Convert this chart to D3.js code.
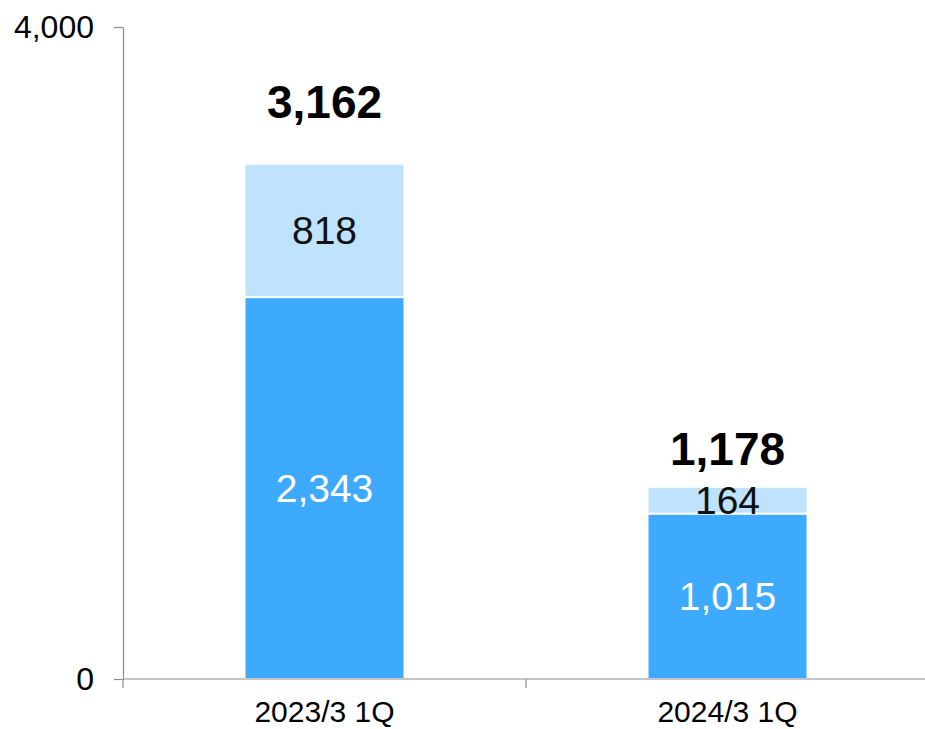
<!DOCTYPE html>
<html>
<head>
<meta charset="utf-8">
<script src="https://cdn.jsdelivr.net/npm/d3@7/dist/d3.min.js"></script>
<style>
  html, body { margin: 0; padding: 0; background: #fff; }
  svg { display: block; font-family: Arial, "Liberation Sans", sans-serif; }
</style>
</head>
<body>
<svg id="chart" width="925" height="729"></svg>
<script>
// chart data
const categories = ["2023/3 1Q", "2024/3 1Q"];
const baseValues = [2343, 1015];
const extraValues = [818, 164];
const totals = [3162, 1178];
const yTicks = [0, 4000];

const width = 925, height = 729;
const svg = d3.select("#chart");

// scales
const x = d3.scaleBand().domain(categories).range([123, 929]).padding(0);
const y = d3.scaleLinear().domain([0, 4000]).range([679, 27]);
const barW = x.bandwidth() * 0.397;
const fmt = d3.format(",");
// gap between bar top and total label (the short bar's label sits closer)
const totalGap = [46, 22];

// stack the two series
const rows = categories.map((c, i) => ({ cat: c, base: baseValues[i], extra: extraValues[i] }));
const series = d3.stack().keys(["base", "extra"])(rows);
const colors = { base: "#3DAAFE", extra: "#BFE3FC" };
const labelColors = { base: "#ffffff", extra: "#111111" };

// y axis
const yAxis = svg.append("g")
  .attr("transform", "translate(123,0)")
  .call(d3.axisLeft(y).tickValues(yTicks).tickFormat(fmt).tickSize(9).tickSizeOuter(0).tickPadding(20));
yAxis.select(".domain").attr("stroke", "#8c8c8c").attr("stroke-width", 1.2);
yAxis.selectAll(".tick line").attr("stroke", "#8c8c8c").attr("stroke-width", 1.2);
yAxis.selectAll(".tick text").attr("font-size", 32).attr("fill", "#000")
  .attr("font-family", "Arial, 'Liberation Sans', sans-serif");

// bars
const layers = svg.append("g").selectAll("g")
  .data(series)
  .join("g")
  .attr("fill", d => colors[d.key]);

layers.selectAll("rect")
  .data(d => d)
  .join("rect")
  .attr("x", d => x(d.data.cat) + x.bandwidth() / 2 - barW / 2)
  .attr("y", d => y(d[1]))
  .attr("width", barW)
  .attr("height", d => y(d[0]) - y(d[1]))
  .attr("stroke", "#fff")
  .attr("stroke-width", 2);

// segment labels
series.forEach(s => {
  svg.append("g").selectAll("text")
    .data(s)
    .join("text")
    .attr("x", d => x(d.data.cat) + x.bandwidth() / 2)
    .attr("y", d => (y(d[0]) + y(d[1])) / 2)
    .attr("dy", "0.35em")
    .attr("text-anchor", "middle")
    .attr("font-size", 39)
    .attr("fill", labelColors[s.key])
    .text(d => fmt(d.data[s.key]));
});

// totals above bars
svg.append("g").selectAll("text")
  .data(categories)
  .join("text")
  .attr("x", c => x(c) + x.bandwidth() / 2)
  .attr("y", (c, i) => y(baseValues[i] + extraValues[i]) - totalGap[i])
  .attr("text-anchor", "middle")
  .attr("font-size", 46)
  .attr("font-weight", "bold")
  .attr("fill", "#000")
  .text((c, i) => fmt(totals[i]));

// x axis line and boundary ticks
const axisColor = "#8c8c8c";
svg.append("line")
  .attr("x1", x.range()[0]).attr("x2", x.range()[1])
  .attr("y1", y(0)).attr("y2", y(0))
  .attr("stroke", axisColor).attr("stroke-width", 1.2);

const bounds = categories.map(c => x(c)).concat([x.range()[1]]);
svg.append("g").selectAll("line")
  .data(bounds)
  .join("line")
  .attr("x1", d => d).attr("x2", d => d)
  .attr("y1", y(0)).attr("y2", y(0) + 9)
  .attr("stroke", axisColor).attr("stroke-width", 1.2);

// category labels
const xAxis = svg.append("g")
  .attr("transform", `translate(0,${y(0)})`)
  .call(d3.axisBottom(x).tickSize(0).tickPadding(22));
xAxis.select(".domain").remove();
xAxis.selectAll(".tick text").attr("font-size", 30).attr("fill", "#000")
  .attr("font-family", "Arial, 'Liberation Sans', sans-serif");
</script>
</body>
</html>
